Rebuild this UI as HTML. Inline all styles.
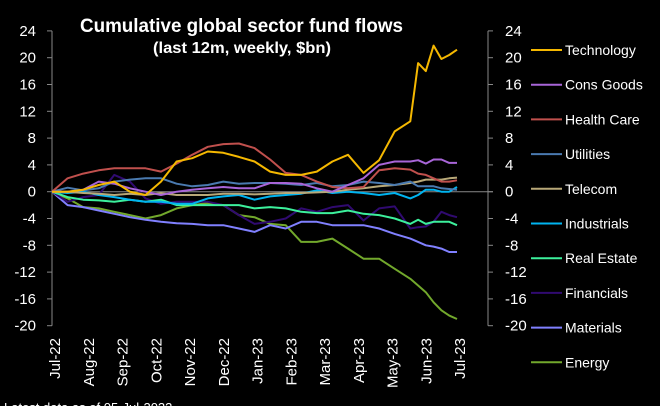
<!DOCTYPE html>
<html><head><meta charset="utf-8"><style>
html,body{margin:0;padding:0;background:#000;width:660px;height:406px;overflow:hidden}
svg{display:block;font-family:"Liberation Sans",Arial,sans-serif}
</style></head><body>
<svg id="chart" width="660" height="406" viewBox="0 0 660 406">
<rect width="660" height="406" fill="#000"/>
<text x="80" y="32" fill="#fff" font-size="19" font-weight="bold" textLength="323" lengthAdjust="spacingAndGlyphs">Cumulative global sector fund flows</text>
<text x="153" y="53" fill="#fff" font-size="16" font-weight="bold" textLength="178" lengthAdjust="spacingAndGlyphs">(last 12m, weekly, $bn)</text>
<g id="axes"></g>
<g id="series"></g>
<g id="legend"></g>
<text x="4" y="412" fill="#fff" font-size="13">Latest data as of 05-Jul-2023</text>
</svg>
<script>
const weeks=[0,2,4,6,8,10,12,14,16,18,20,22,24,26,28,30,32,34,36,38,40,42,44,46,47,48,49,50,51,52];
const months=["Jul-22","Aug-22","Sep-22","Oct-22","Nov-22","Dec-22","Jan-23","Feb-23","Mar-23","Apr-23","May-23","Jun-23","Jul-23"];
const yTicks=[24,20,16,12,8,4,0,-4,-8,-12,-16,-20];
const names=["Technology","Cons Goods","Health Care","Utilities","Telecom","Industrials","Real Estate","Financials","Materials","Energy"];
const colors=["#f5b800","#a865d8","#c0504d","#4a7ab0","#b8a878","#00b4f0","#3cf09c","#300a70","#8080ff","#72a82c"];
const technology=[0,0,0.3,1,1.5,0,-0.5,1.5,4.5,5,6,5.8,5.2,4.5,3,2.5,2.5,3,4.5,5.5,2.8,4.7,9,10.5,19.2,18,21.8,19.8,20.4,21.2];
const consGoods=[0,0,0.3,1.5,1.2,0.5,0,-0.5,0,0.3,0.5,0.7,0.5,0.5,1.3,1.3,1.2,0.5,0,1,2,4,4.5,4.5,4.7,4.2,4.8,4.8,4.3,4.3];
const healthCare=[0,2,2.7,3.2,3.5,3.5,3.5,3,4.2,5.5,6.7,7.1,7.2,6.5,4.8,2.8,2.5,1.5,0.7,0.5,0.7,3.2,3.5,3.3,2.7,2.5,2,1.5,1.5,1.7];
const utilities=[0,0.6,0.2,0.5,1.5,1.8,2,2,1.2,0.8,1,1.5,1.2,1.3,1.3,1.2,1,1.3,0.8,1,1.5,1.3,1,1.5,0.8,0.8,0.8,0.5,0.4,0.3];
const telecom=[0,0,-0.2,-0.3,-0.5,-0.3,-0.5,-0.2,-0.5,-0.5,-0.5,-0.3,-0.3,-0.4,-0.3,-0.2,-0.2,-0.1,0,0.3,0.5,0.8,1,1.3,1.5,1.8,1.8,1.8,2,2.1];
const industrials=[0,-0.2,0,-0.5,-0.8,-1.2,-1.5,-1.5,-1.8,-1.8,-1,-0.7,-0.5,-1.2,-0.7,-0.5,-0.3,0.2,-0.2,0,-0.2,-0.5,-0.2,-1,-0.5,0.3,0.3,0,0,0.7];
const realEstate=[0,-0.8,-1.2,-1.3,-1.5,-1.2,-1.5,-1.2,-2,-2,-2,-2,-2,-2.5,-2.3,-2.5,-3,-3.2,-3.2,-2.8,-3.3,-3.5,-4,-4.8,-4.2,-4.8,-4.5,-4.5,-4.5,-5];
const financials=[0,-1.5,-0.8,-0.5,2.5,1.5,-1,-1.8,-1.5,-1.5,-1.5,-2,-3.5,-4.8,-4.5,-4,-2.5,-3,-2.3,-2,-4.3,-2.5,-2.2,-5.5,-5.3,-5.2,-4.5,-3,-3.5,-3.8];
const materials=[0,-2,-2.3,-2.8,-3.3,-3.8,-4.2,-4.5,-4.7,-4.8,-5,-5,-5.5,-6,-5,-5.5,-4.5,-4.5,-5,-5,-5,-5.5,-6.3,-7,-7.5,-8,-8.2,-8.5,-9,-9];
const energy=[0,-1,-2.3,-2.5,-3,-3.5,-4,-3.5,-2.5,-2,-1.7,-2,-3.5,-3.8,-4.8,-5,-7.5,-7.5,-7,-8.5,-10,-10,-11.5,-13,-14,-15,-16.5,-17.7,-18.5,-19];
const seriesData=[technology,consGoods,healthCare,utilities,telecom,industrials,realEstate,financials,materials,energy];

const NS="http://www.w3.org/2000/svg";
const X0=52,X1=457,Y0=191.7,PX=6.7;
const xs=w=>X0+(X1-X0)*w/52;
const ys=v=>Y0-v*PX;
function mk(tag,attrs,parent){const e=document.createElementNS(NS,tag);for(const k in attrs)e.setAttribute(k,attrs[k]);parent.appendChild(e);return e;}
const axes=document.getElementById("axes");
const ytop=ys(24),ybot=ys(-20);
let e;
e=mk("line",{x1:X0,x2:X0,y1:ytop,y2:ybot,stroke:"#888","stroke-width":1},axes);


e=mk("line",{x1:488,x2:488,y1:ytop,y2:ybot,stroke:"#888","stroke-width":1},axes);


e=mk("line",{x1:X0,x2:493,y1:Y0,y2:Y0,stroke:"#888","stroke-width":1},axes);


yTicks.forEach(v=>{
  const y=ys(v);
  mk("line",{x1:X0-5,x2:X0,y1:y,y2:y,stroke:"#888"},axes);
  mk("line",{x1:488,x2:493,y1:y,y2:y,stroke:"#888"},axes);
  let t=mk("text",{x:36,y:y+5,fill:"#fff","font-size":15,"text-anchor":"end"},axes);t.textContent=v;
  
  
  t=mk("text",{x:505,y:y+5,fill:"#fff","font-size":15},axes);t.textContent=v;
  
  
});
months.forEach((m,i)=>{
  const x=X0+(X1-X0)*i/12+3;
  const t=mk("text",{x:0,y:0,fill:"#fff","font-size":15,"text-anchor":"end",transform:`translate(${x+5},338) rotate(-90)`},axes);
  t.textContent=m;
  
  
});
const sg=document.getElementById("series");
for(let s=seriesData.length-1;s>=0;s--){
  const d=seriesData[s].map((v,i)=>(i?"L":"M")+xs(weeks[i]).toFixed(1)+","+ys(v).toFixed(1)).join("");
  const p=mk("path",{d:d,fill:"none",stroke:colors[s],"stroke-width":2,"stroke-linejoin":"round"},sg);
  
  
}
const lg=document.getElementById("legend");
names.forEach((n,i)=>{
  const y=50+i*34.7;
  const g=mk("g",{},lg);
  
  
  mk("line",{x1:531,x2:562,y1:y,y2:y,stroke:colors[i],"stroke-width":2},g);
  const t=mk("text",{x:565,y:y+5,fill:"#fff","font-size":14},g);t.textContent=n;
});
</script>
</body></html>
